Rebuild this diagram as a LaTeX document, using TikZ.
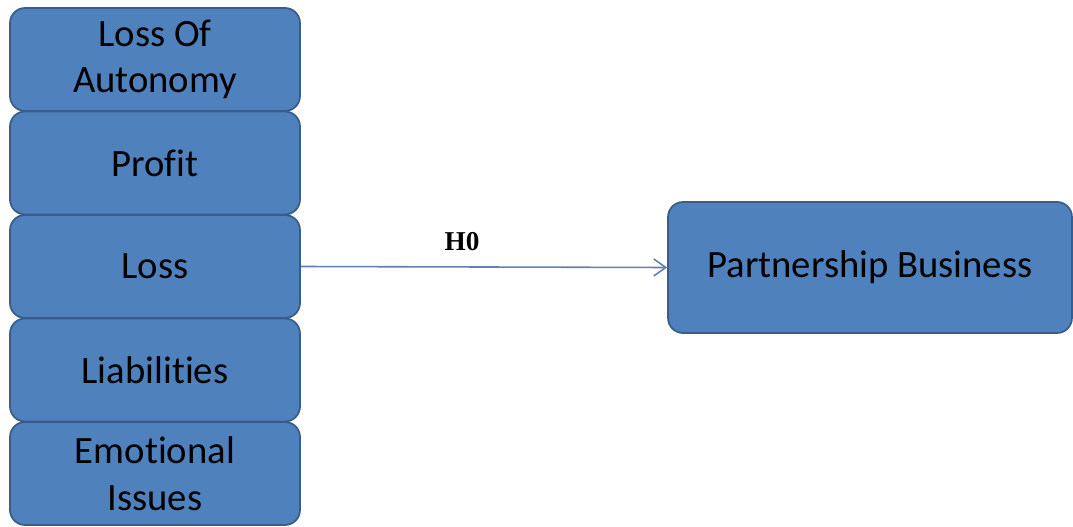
\documentclass[tikz,border=0pt]{standalone}
\usepackage{fontspec}
\setmainfont{Carlito}[Ligatures=NoCommon]
\newfontfamily\serifh{Liberation Serif}
\usepackage{tikz}
\usetikzlibrary{arrows.meta}

\definecolor{boxfill}{RGB}{79,129,189}
\definecolor{boxline}{RGB}{56,93,138}
\definecolor{arrowcol}{RGB}{98,128,178}

\begin{document}
\begin{tikzpicture}[x=0.02cm, y=-0.02cm,
  factor/.style={draw=boxline, fill=boxfill, line width=1pt, rounded corners=0.3cm,
    minimum width=5.8cm, minimum height=2.06cm, align=center, inner sep=1pt,
    font=\fontsize{22}{26.5}\selectfont},
  result/.style={factor, minimum width=8.08cm, minimum height=2.62cm}]

\useasboundingbox (0,0) rectangle (1073,527);

\node[factor] (autonomy) at (155,59.5) {Loss Of\\Autonomy};
\node[factor] (profit) at (155,163) {Profit};
\node[factor] (loss) at (155,266.5) {Loss};
\node[factor] (liab) at (155,370) {Liabilities};
\node[factor] (emotion) at (155,473.5) {Emotional\\Issues};

\node[result] (partner) at (870,267.5) {Partnership Business};

\draw[arrowcol, line width=0.9pt, -{Straight Barb[length=2.4mm, width=3.4mm]}] (loss.east) -- (partner.west)
  node[pos=0.44, above=0.2cm, black, font=\serifh\bfseries\fontsize{15.5}{17}\selectfont] {H0};

\end{tikzpicture}
\end{document}
